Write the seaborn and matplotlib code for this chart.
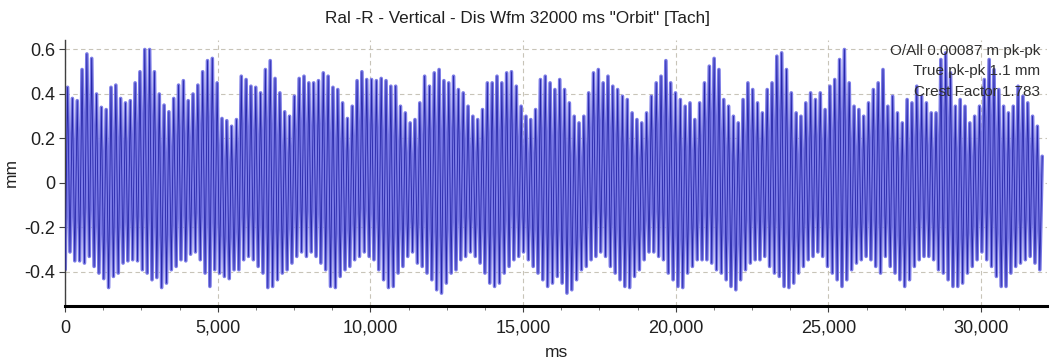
import numpy as np
import pandas as pd
import matplotlib
matplotlib.use("Agg")
import matplotlib.pyplot as plt
from matplotlib.ticker import FixedLocator, FuncFormatter, MultipleLocator
import seaborn as sns

# ---- data (mm), one peak and one trough per cycle ----
peaks = [
    0.43, 0.38, 0.37, 0.51, 0.58, 0.56, 0.40, 0.34, 0.33, 0.43, 0.44, 0.38, 0.36, 0.37, 0.45, 0.50, 0.60,
    0.60, 0.50, 0.40, 0.35, 0.32, 0.38, 0.44, 0.46, 0.37, 0.40, 0.44, 0.50, 0.55, 0.56, 0.45, 0.29, 0.28,
    0.255, 0.285, 0.48, 0.465, 0.435, 0.43, 0.405, 0.51, 0.55, 0.47, 0.405, 0.32, 0.30, 0.39, 0.47, 0.48, 0.45,
    0.45, 0.46, 0.495, 0.48, 0.43, 0.42, 0.36, 0.29, 0.345, 0.46, 0.50, 0.465, 0.465, 0.46, 0.47, 0.46, 0.435,
    0.435, 0.345, 0.315, 0.27, 0.285, 0.36, 0.48, 0.435, 0.495, 0.51, 0.46, 0.45, 0.48, 0.42, 0.405, 0.345, 0.30,
    0.285, 0.33, 0.45, 0.45, 0.48, 0.45, 0.495, 0.50, 0.435, 0.345, 0.30, 0.285, 0.33, 0.465, 0.48, 0.45, 0.42,
    0.465, 0.42, 0.36, 0.30, 0.27, 0.30, 0.405, 0.495, 0.51, 0.45, 0.48, 0.435, 0.42, 0.39, 0.375, 0.315, 0.285,
    0.27, 0.315, 0.39, 0.45, 0.48, 0.55, 0.45, 0.405, 0.375, 0.345, 0.36, 0.285, 0.36, 0.45, 0.525, 0.56, 0.51,
    0.375, 0.345, 0.30, 0.27, 0.375, 0.45, 0.42, 0.36, 0.315, 0.42, 0.45, 0.57, 0.585, 0.51, 0.405, 0.315, 0.30,
    0.36, 0.405, 0.375, 0.405, 0.33, 0.435, 0.465, 0.555, 0.60, 0.45, 0.345, 0.33, 0.30, 0.36, 0.42, 0.45, 0.51,
    0.345, 0.39, 0.315, 0.27, 0.375, 0.36, 0.435, 0.39, 0.36, 0.315, 0.315, 0.555, 0.585, 0.495, 0.345, 0.375, 0.345,
    0.27, 0.30, 0.345, 0.465, 0.555, 0.51, 0.42, 0.345, 0.315, 0.345, 0.435, 0.39, 0.36, 0.30, 0.255, 0.12,
]
troughs = [
    -0.39, -0.31, -0.35, -0.35, -0.36, -0.33, -0.375, -0.405, -0.43, -0.47, -0.42, -0.405, -0.36, -0.35, -0.345, -0.35, -0.39,
    -0.405, -0.435, -0.425, -0.47, -0.45, -0.39, -0.375, -0.345, -0.35, -0.32, -0.31, -0.345, -0.405, -0.465, -0.39, -0.405, -0.42,
    -0.43, -0.39, -0.39, -0.345, -0.33, -0.345, -0.375, -0.405, -0.47, -0.465, -0.435, -0.405, -0.39, -0.36, -0.33, -0.31, -0.33,
    -0.31, -0.33, -0.36, -0.39, -0.465, -0.47, -0.42, -0.39, -0.375, -0.345, -0.33, -0.31, -0.33, -0.345, -0.39, -0.435, -0.47,
    -0.465, -0.405, -0.375, -0.33, -0.31, -0.36, -0.375, -0.405, -0.435, -0.48, -0.495, -0.45, -0.405, -0.39, -0.345, -0.33, -0.31,
    -0.33, -0.36, -0.405, -0.45, -0.465, -0.45, -0.405, -0.375, -0.345, -0.33, -0.31, -0.345, -0.375, -0.405, -0.435, -0.465, -0.45,
    -0.42, -0.45, -0.495, -0.48, -0.435, -0.39, -0.375, -0.345, -0.33, -0.31, -0.33, -0.375, -0.405, -0.435, -0.465, -0.47, -0.42,
    -0.39, -0.345, -0.31, -0.31, -0.33, -0.345, -0.405, -0.435, -0.465, -0.47, -0.405, -0.375, -0.345, -0.345, -0.345, -0.36, -0.39,
    -0.405, -0.435, -0.465, -0.48, -0.435, -0.39, -0.36, -0.345, -0.345, -0.33, -0.375, -0.405, -0.42, -0.465, -0.47, -0.45, -0.405,
    -0.375, -0.345, -0.33, -0.31, -0.33, -0.375, -0.405, -0.435, -0.465, -0.435, -0.39, -0.36, -0.345, -0.33, -0.345, -0.375, -0.405,
    -0.33, -0.375, -0.405, -0.435, -0.465, -0.435, -0.375, -0.345, -0.33, -0.33, -0.345, -0.39, -0.405, -0.435, -0.465, -0.465, -0.45,
    -0.405, -0.375, -0.345, -0.31, -0.345, -0.375, -0.42, -0.465, -0.465, -0.405, -0.375, -0.36, -0.345, -0.33, -0.36, -0.39,
]
duration_ms = 32000
title = 'Ral -R - Vertical - Dis Wfm 32000 ms "Orbit" [Tach]'
stats_lines = ["O/All 0.00087 m pk-pk", "True pk-pk 1.1 mm", "Crest Factor 1.783"]
y_ticks = [-0.4, -0.2, 0, 0.2, 0.4, 0.6]
y_tick_labels = ["-0.4", "-0.2", "0", "0.2", "0.4", "0.6"]
x_ticks = [0, 5000, 10000, 15000, 20000, 25000, 30000]

# ---- build the alternating peak/trough sequence ----
n = min(len(peaks), len(troughs))
vals = []
for p, t in zip(peaks[:n], troughs[:n]):
    vals.extend([t, p])
vals = np.array(vals)
times = np.arange(len(vals)) * (duration_ms / (len(vals) - 1))
df = pd.DataFrame({"ms": times, "mm": vals})

sns.set_theme(style="white")
plt.rcParams["font.family"] = ["Liberation Sans", "DejaVu Sans"]

fig = plt.figure(figsize=(10.51, 3.63), dpi=100)
ax = fig.add_axes([0.062, 0.157, 0.934, 0.733])

sns.lineplot(data=df, x="ms", y="mm", ax=ax, estimator=None, sort=False,
             color="#7a7ae6", linewidth=2.6, zorder=2)
sns.lineplot(data=df, x="ms", y="mm", ax=ax, estimator=None, sort=False,
             color="#2626a8", linewidth=0.6, zorder=3)

ax.set_xlim(0, 32150)
ax.set_ylim(-0.553, 0.643)

ax.yaxis.set_major_locator(FixedLocator(y_ticks))
ax.set_yticklabels(y_tick_labels)
ax.xaxis.set_major_locator(FixedLocator(x_ticks))
ax.xaxis.set_minor_locator(MultipleLocator(1250))
ax.xaxis.set_major_formatter(FuncFormatter(lambda v, p: f"{int(v):,}"))

ax.grid(True, which="major", linestyle=(0, (4, 3)), color="#c8c4b8", linewidth=0.8)
ax.set_axisbelow(True)

for s in ["top", "right"]:
    ax.spines[s].set_visible(False)
ax.spines["left"].set_color("#404040")
ax.spines["left"].set_linewidth(1.0)
ax.spines["bottom"].set_color("#000000")
ax.spines["bottom"].set_linewidth(2.2)

ax.tick_params(axis="y", which="major", direction="out", length=4, width=0.8,
               color="#404040", labelsize=13, labelcolor="#202020", pad=3, left=True)
ax.tick_params(axis="x", which="major", direction="out", length=4, width=0.8,
               color="#404040", labelsize=13, labelcolor="#202020", pad=6, bottom=True)
ax.tick_params(axis="x", which="minor", direction="out", length=3, width=0.6,
               color="#606060", bottom=True)

ax.set_xlabel("ms", fontsize=12.5, color="#202020", labelpad=6)
ax.set_ylabel("mm", fontsize=12.5, color="#202020", labelpad=4)

fig.text(0.492, 0.95, title, ha="center", va="center", fontsize=12.3, color="#202020")

for i, line in enumerate(stats_lines):
    ax.text(0.9935, 0.96 - i * 0.077, line, transform=ax.transAxes, ha="right", va="center",
            fontsize=11, color="#303030", zorder=5)

fig.savefig("out.png", dpi=100)
